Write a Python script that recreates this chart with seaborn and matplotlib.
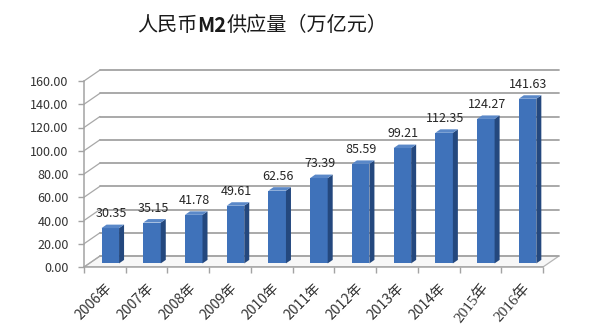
import numpy as np
import pandas as pd
import matplotlib
matplotlib.use("Agg")
import matplotlib.pyplot as plt
from matplotlib.patches import Polygon
from matplotlib.transforms import Affine2D
import seaborn as sns

# ---- data ----
years = ["2006年", "2007年", "2008年", "2009年", "2010年", "2011年",
         "2012年", "2013年", "2014年", "2015年", "2016年"]
m2 = [30.35, 35.15, 41.78, 49.61, 62.56, 73.39, 85.59, 99.21, 112.35, 124.27, 141.63]
yticks = [0, 20, 40, 60, 80, 100, 120, 140, 160]
title_parts = ["人民币", "M2", "供应量（万亿元）"]

sns.set_style("white")
plt.rcParams["font.family"] = ["Noto Sans CJK SC", "DejaVu Sans"]

W, H = 594, 336
fig = plt.figure(figsize=(W / 100, H / 100), dpi=100)
ax = fig.add_axes([84 / W, 1 - 267 / H, (559 - 84) / W, (267 - 70) / H])

n = len(years)
DX = 16 / (459 / n)          # back-wall depth in category units
DY = 11 / (186 / 160)        # back-wall depth in value units
FX, FY = 0.13, 3.1           # front face of bars sits a bit back
ddx, ddy = 0.12, 3.0         # bar depth
bw = 0.42

grid_c = "#A3A3A3"
front_c = "#3F72BA"
side_c = "#24487E"
top_c = "#5A88C8"

df = pd.DataFrame({"year": years, "m2": m2})
sns.barplot(data=df, x="year", y="m2", color=front_c, saturation=1,
            width=bw, ax=ax, zorder=4, edgecolor="none")

shift = Affine2D().translate(FX, FY) + ax.transData
for p in ax.patches:
    p.set_transform(shift)
    p.set_facecolor(front_c)

for i, v in enumerate(m2):
    x0, x1 = i - bw / 2, i + bw / 2
    side = Polygon([(x1, 0), (x1 + ddx, ddy), (x1 + ddx, v + ddy), (x1, v)],
                   closed=True, facecolor=side_c, edgecolor="none",
                   transform=shift, zorder=4)
    top = Polygon([(x0, v), (x1, v), (x1 + ddx, v + ddy), (x0 + ddx, v + ddy)],
                  closed=True, facecolor=top_c, edgecolor="none",
                  transform=shift, zorder=4)
    ax.add_patch(side)
    ax.add_patch(top)
    ax.annotate(f"{v:.2f}", xy=(i + FX + 0.02, v + FY + ddy), xytext=(0, 3),
                textcoords="offset points", ha="center", va="bottom",
                fontsize=9, color="#262626", zorder=6)

# back wall gridlines with diagonals
left, right = -0.5, n - 0.5
for t in yticks:
    ax.plot([left, left + DX], [t, t + DY], color="#A8A8A8", lw=0.9,
            zorder=1, clip_on=False)
    ax.plot([left + DX, right + DX], [t + DY, t + DY], color=grid_c, lw=1.3,
            zorder=1, clip_on=False)
# floor
floor = Polygon([(left, 0), (right, 0), (right + DX, DY), (left + DX, DY)],
                closed=True, facecolor="#F7F7F7", edgecolor="#B5B5B5",
                lw=0.9, zorder=0.5)
ax.add_patch(floor)

ax.set_xlim(left, right + DX)
ax.set_ylim(0, 160 + DY)
ax.set_yticks(yticks)
ax.set_yticklabels([f"{t:.2f}" for t in yticks])
ax.set_ylabel("")
ax.set_xlabel("")
ax.grid(False)

for s in ["top", "right"]:
    ax.spines[s].set_visible(False)
ax.spines["left"].set_bounds(0, 160)
ax.spines["bottom"].set_bounds(left, right)
for s in ["left", "bottom"]:
    ax.spines[s].set_color(grid_c)
    ax.spines[s].set_linewidth(1.1)
    ax.spines[s].set_zorder(2)

ax.tick_params(axis="y", left=True, length=4, width=1, color=grid_c,
               pad=7, labelsize=9, labelcolor="#333333")
ax.set_xticks(np.arange(n))
ax.set_xticks(np.arange(left, right + 0.01, 1), minor=True)
ax.tick_params(axis="x", which="major", length=0, pad=10, labelsize=10,
               labelcolor="#333333")
ax.tick_params(axis="x", which="minor", bottom=True, length=4, width=1,
               color=grid_c)
ax.set_xticklabels(years, rotation=45, ha="right", rotation_mode="anchor")
labs = ax.get_xticklabels()
for k in (n - 2, n - 1):
    labs[k].set_fontfamily(["Liberation Serif", "Noto Sans CJK SC"])
    labs[k].set_fontsize(11)
    labs[k].set_rotation(52 if k == n - 2 else 48)

# title with bold M2
t1 = fig.text(137 / W, 1 - 31 / H, title_parts[0], fontsize=14.5,
              color="#1a1a1a", ha="left", va="baseline")
a2 = ax.annotate(title_parts[1], xy=(1, 0), xycoords=t1, ha="left",
                 va="bottom", fontsize=14.5, fontweight="bold", color="#1a1a1a",
                 annotation_clip=False)
a3 = ax.annotate(title_parts[2], xy=(1, 0), xycoords=a2, ha="left",
                 va="bottom", fontsize=14.5, color="#1a1a1a",
                 annotation_clip=False)

fig.savefig("out.png", dpi=100, facecolor="white")
